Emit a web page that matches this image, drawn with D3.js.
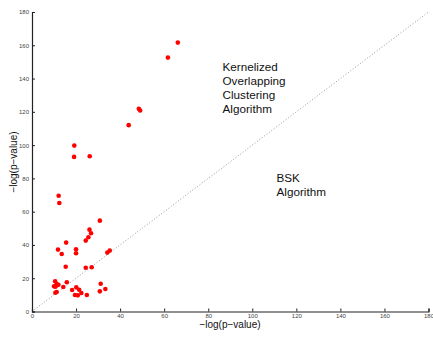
<!DOCTYPE html>
<html>
<head>
<meta charset="utf-8">
<script src="https://cdn.jsdelivr.net/npm/d3@7"></script>
<style>
  body { margin: 0; background: #fff; }
  svg { display: block; font-family: "Liberation Sans", Arial, sans-serif; }
  .tick text { fill: #444; font-size: 6px; }
  .label { font-size: 10px; fill: #111; }
  .note { font-size: 11.7px; fill: #111; }
</style>
</head>
<body>
<svg width="433" height="337"></svg>
<script>
// -log(p-value): BSK algorithm (x) vs kernelized overlapping clustering (y)
let bskVals = [66.2, 61.7, 48.5, 49.1, 43.9, 19.2, 19.1, 26.2,
    12.1, 12.4, 30.8, 26.1, 26.8, 25.6, 24.4, 15.5, 11.8, 20.0, 20.0, 13.5,
    34.2, 35.3, 15.3, 24.4, 27.1, 10.5, 11.2, 12.0, 15.8, 10.6, 14.2, 20.1,
    18.2, 21.4, 22.4, 10.6, 11.2, 19.5, 20.8, 24.9, 31.2, 30.8, 33.3, 11.4, 10.0];
let kocVals = [161.6, 152.6, 121.8, 120.8, 112.0, 99.7, 92.9, 93.3,
    69.6, 65.2, 54.6, 49.2, 47.0, 44.6, 42.6, 41.4, 37.2, 37.4, 35.0, 34.6,
    35.4, 36.6, 26.9, 26.3, 26.6, 18.2, 16.5, 16.1, 17.6, 14.9, 14.7, 14.5,
    12.9, 13.1, 11.1, 11.3, 11.7, 9.9, 9.7, 9.9, 16.7, 12.1, 13.5, 15.8, 15.2];
let tickVals = [0, 20, 40, 60, 80, 100, 120, 140, 160, 180];
let notes = [
    {x: 86.5, y: 144.8, lines: ["Kernelized", "Overlapping", "Clustering", "Algorithm"]},
    {x: 111, y: 78, lines: ["BSK", "Algorithm"]}
];

let svg = d3.select("svg");

let x = d3.scaleLinear().domain([0, 180]).range([32, 428.5]);
let y = d3.scaleLinear().domain([0, 180]).range([311.5, 12]);

// diagonal y = x
svg.append("line")
    .attr("x1", x(0)).attr("y1", y(0))
    .attr("x2", x(180)).attr("y2", y(180))
    .attr("stroke", "#999")
    .attr("stroke-width", 1)
    .attr("stroke-dasharray", "1,2");

let xAxis = svg.append("g")
    .attr("transform", "translate(0," + y(0) + ")")
    .call(d3.axisBottom(x).tickValues(tickVals).tickSize(-3).tickPadding(3));
let yAxis = svg.append("g")
    .attr("transform", "translate(" + x(0) + ",0)")
    .call(d3.axisLeft(y).tickValues(tickVals).tickSize(-3).tickPadding(3));

[xAxis, yAxis].forEach(g => {
    g.select(".domain").attr("stroke", "#222").attr("stroke-width", 1.2);
    g.selectAll(".tick line").attr("stroke", "#222");
});
xAxis.selectAll(".tick text").attr("dy", "0.6em");

svg.append("g")
    .selectAll("circle")
    .data(bskVals)
    .enter().append("circle")
        .attr("cx", d => x(d))
        .attr("cy", (d, i) => y(kocVals[i]))
        .attr("r", 2.3)
        .attr("fill", "#f00");

svg.append("text")
    .attr("class", "label")
    .attr("x", 230).attr("y", 328)
    .attr("text-anchor", "middle")
    .text("\u2212log(p\u2212value)");

svg.append("text")
    .attr("class", "label")
    .attr("transform", "translate(17,162) rotate(-90)")
    .attr("text-anchor", "middle")
    .text("\u2212log(p\u2212value)");

notes.forEach(n => {
    let t = svg.append("text")
        .attr("class", "note")
        .attr("x", x(n.x)).attr("y", y(n.y));
    n.lines.forEach((s, i) => {
        t.append("tspan").attr("x", x(n.x)).attr("dy", i ? 14 : 0).text(s);
    });
});
</script>
</body>
</html>
